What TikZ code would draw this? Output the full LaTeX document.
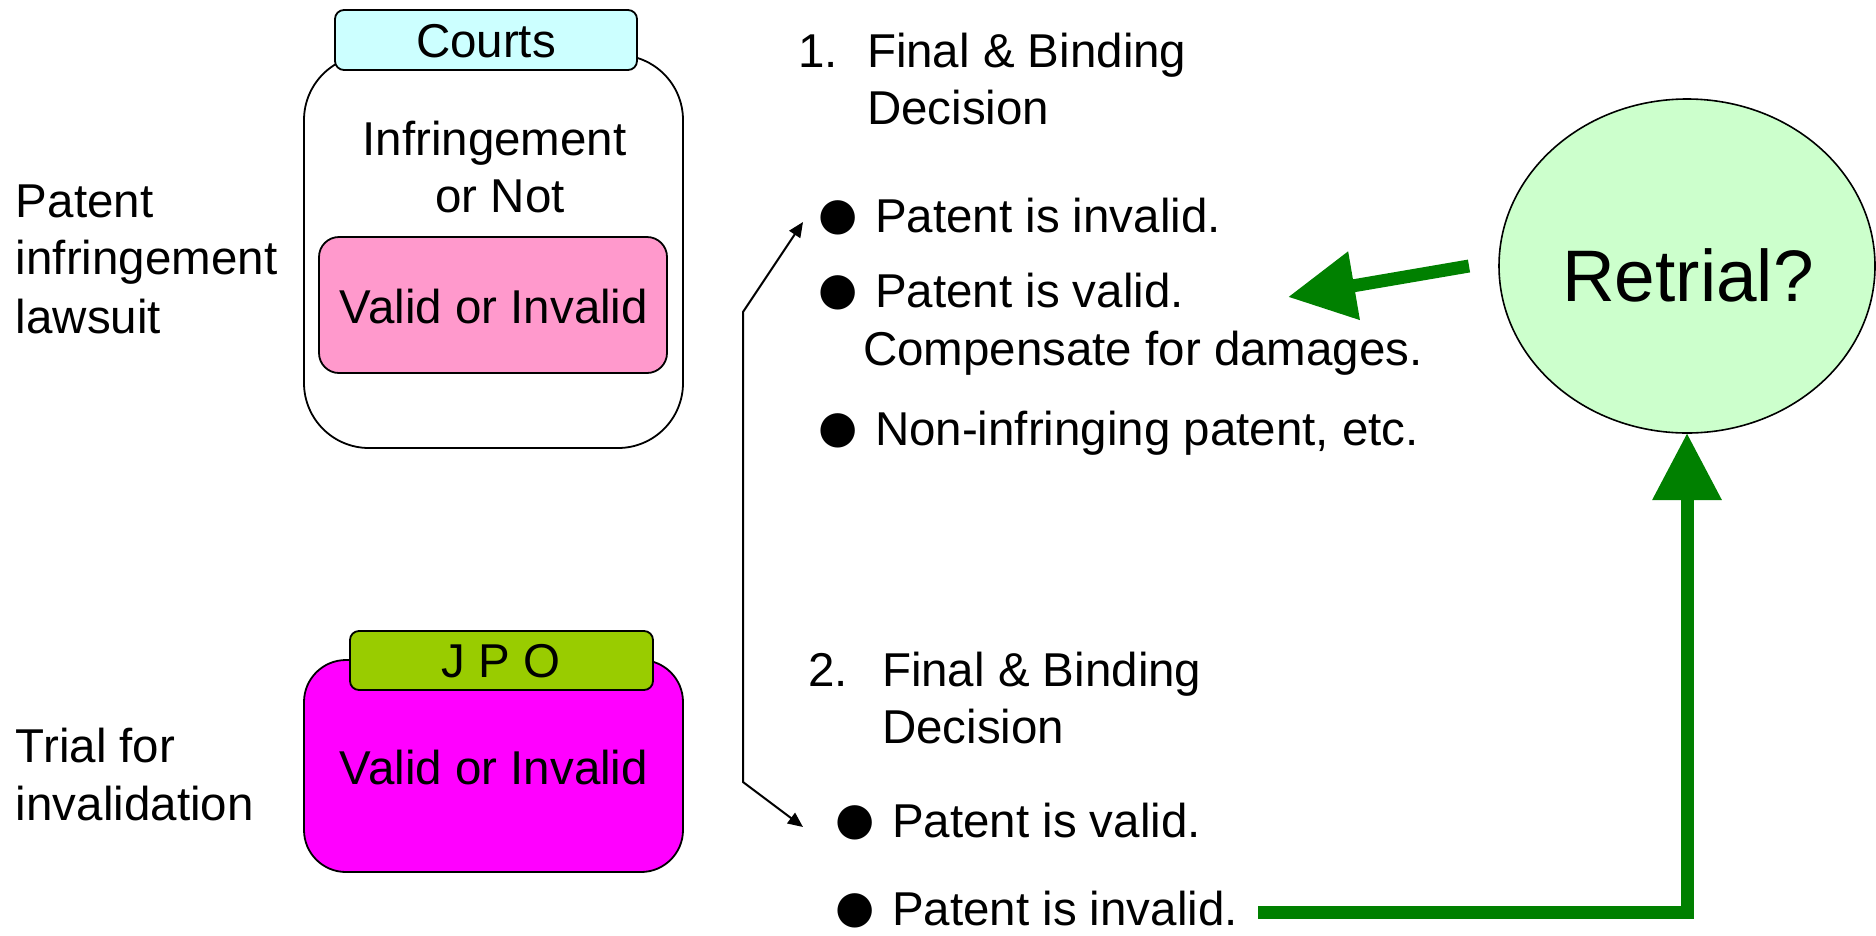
\documentclass[tikz,border=0pt]{standalone}
\usepackage{fontspec}
\setmainfont{Liberation Sans}
\newfontfamily\dvsans{DejaVu Sans}
\usetikzlibrary{arrows.meta,shapes.geometric}

\definecolor{courtcyan}{HTML}{CCFFFF}
\definecolor{validpink}{HTML}{FF99CC}
\definecolor{jpolime}{HTML}{99CC00}
\definecolor{jpomagenta}{HTML}{FF00FF}
\definecolor{retrialfill}{HTML}{CCFFCC}
\definecolor{arrowgreen}{HTML}{008000}

\newcommand\bulletmark{\makebox[49pt][l]{\hspace*{-8pt}\raisebox{3pt}{\dvsans\fontsize{45}{45}\selectfont ●}}}

\tikzset{
  every node/.style={inner sep=0pt, outer sep=0pt},
  lbl/.style={font=\fontsize{47.5}{57}\selectfont, anchor=base west},
  clbl/.style={font=\fontsize{47.5}{57}\selectfont, anchor=base},
  panel/.style={draw=black, line width=1.8pt, rectangle},
  tabbox/.style={draw=black, line width=1.8pt, rectangle, rounded corners=9pt},
  thinarrow/.style={line width=2pt, {Triangle[length=15pt,width=13pt]}-{Triangle[length=15pt,width=13pt]}},
  greenarrow/.style={draw=arrowgreen, line width=13pt, -{Triangle[length=67pt,width=66pt]}},
}

\begin{document}
\begin{tikzpicture}[x=1pt,y=-1pt]
  % page frame
  \fill[white] (0,0) rectangle (1876,935);
  \useasboundingbox (0,0) rectangle (1876,935);

  % left-hand captions
  \node[lbl] (capA1) at (16,217) {Patent};
  \node[lbl] (capA2) at (16,274) {infringement};
  \node[lbl] (capA3) at (16,333) {lawsuit};
  \node[lbl] (capB1) at (16,762) {Trial for};
  \node[lbl] (capB2) at (16,820) {invalidation};

  % court panel
  \node[panel, rounded corners=65pt, fill=white, minimum width=379pt, minimum height=393pt] (courts) at (493.5,251.5) {};
  \node[tabbox, fill=courtcyan, minimum width=302pt, minimum height=60pt] (courtstab) at (486,40) {};
  \node[clbl] (courtstxt) at (486,57) {Courts};
  \node[clbl] (infr1) at (494.5,155) {Infringement};
  \node[clbl] (infr2) at (500,212) {or Not};
  \node[panel, rounded corners=20pt, fill=validpink, minimum width=348pt, minimum height=136pt] (pinkbox) at (493,305) {};
  \node[clbl] (pinktxt) at (494,323) {Valid or Invalid};

  % JPO panel
  \node[panel, rounded corners=42pt, fill=jpomagenta, minimum width=379pt, minimum height=212pt] (jpo) at (493.5,766) {};
  \node[tabbox, fill=jpolime, minimum width=303pt, minimum height=59pt] (jpotab) at (501.5,660.5) {};
  \node[clbl] (jpotxt) at (501,677) {J P O};
  \node[clbl] (jpovalid) at (494,784) {Valid or Invalid};

  % decision 1
  \node[lbl] (n1) at (798,67) {1.};
  \node[lbl] (d1a) at (867,67) {Final \& Binding};
  \node[lbl] (d1b) at (867,124) {Decision};
  \node[lbl] (p1inv) at (826,232) {\bulletmark Patent is invalid.};
  \node[lbl] (p1val) at (826,307) {\bulletmark Patent is valid.};
  \node[lbl] (p1comp) at (863,365) {Compensate for damages.};
  \node[lbl] (p1non) at (826,445) {\bulletmark Non-infringing patent, etc.};

  % decision 2
  \node[lbl] (n2) at (808,686) {2.};
  \node[lbl] (d2a) at (882,686) {Final \& Binding};
  \node[lbl] (d2b) at (882,743) {Decision};
  \node[lbl] (p2val) at (843,837) {\bulletmark Patent is valid.};
  \node[lbl] (p2inv) at (843,925) {\bulletmark Patent is invalid.};

  % retrial
  \node[ellipse, draw=black, line width=1.6pt, fill=retrialfill, minimum width=376pt, minimum height=334pt] (retrial) at (1687,266) {};
  \node[font=\fontsize{73}{80}\selectfont, anchor=base] (retrialtxt) at (1688,301) {Retrial?};

  % connector points
  \coordinate (tipA) at (803,222);
  \coordinate (kneeA) at (743,312);
  \coordinate (kneeB) at (743,782);
  \coordinate (tipB) at (803,827);
  \coordinate (greenstart) at (1258,912);
  \coordinate (greentip) at (1288,297);

  % bracket arrow linking the two decisions
  \draw[thinarrow] (tipA) -- (kneeA) -- (kneeB) -- (tipB);

  % green arrows
  \draw[greenarrow] (greenstart) -| (retrial.south);
  \draw[greenarrow] ([xshift=-30pt]retrial.west) -- (greentip);
\end{tikzpicture}
\end{document}
